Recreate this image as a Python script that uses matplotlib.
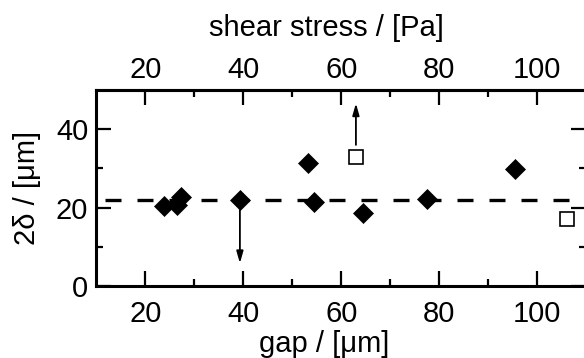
import matplotlib.pyplot as plt

plt.rcParams['font.family'] = ['Liberation Sans', 'DejaVu Sans']

# filled diamonds: gap [um] vs 2*delta [um]
gap = [23.8, 26.5, 27.2, 39.3, 53.3, 54.4, 64.4, 77.6, 95.6]
delta2 = [20.5, 20.7, 22.8, 21.9, 31.3, 21.5, 18.7, 22.3, 29.8]

# open squares
gap_open = [63.0, 106.1]
delta2_open = [32.9, 17.1]

# mean level (dashed line)
level = 22.0
level_x = [11.7, 106.7]

# arrows (limits): (x, y_start, y_end)
arrows = [(39.3, 19.4, 5.8), (63.0, 36.0, 46.6)]

major_x = [20, 40, 60, 80, 100]
minor_x = [30, 50, 70, 90]

fig = plt.figure(figsize=(5.84, 3.58), dpi=100)
ax = fig.add_axes([0.1652, 0.2011, 0.8382, 0.5475])

ax.plot(level_x, [level, level], color='black', lw=2.4,
        linestyle=(0, (4.8, 4.8)), dash_capstyle='butt', zorder=2)
ax.plot(gap, delta2, linestyle='none', marker='D', ms=9.8,
        color='black', mew=0.5, zorder=3)
ax.plot(gap_open, delta2_open, linestyle='none', marker='s', ms=10,
        mfc='white', mec='black', mew=1.2, zorder=3)

for x, y0, y1 in arrows:
    ax.annotate('', xy=(x, y1), xytext=(x, y0),
                arrowprops=dict(arrowstyle='-|>,head_length=0.7,head_width=0.2',
                                color='black', lw=1.3, shrinkA=0, shrinkB=0))

ax.set_xlim(10, 110)
ax.set_ylim(0, 50)
ax.set_xticks(major_x)
ax.set_xticks(minor_x, minor=True)
ax.set_yticks([0, 20, 40])
ax.set_yticks([10, 30], minor=True)

for s in ax.spines.values():
    s.set_linewidth(2.2)

ax.tick_params(which='both', direction='in', top=False, right=True,
               width=1.6, labelsize=21)
ax.tick_params(which='major', length=10.5)
ax.tick_params(which='minor', length=5)
ax.tick_params(axis='x', which='major', pad=10)
ax.tick_params(axis='y', which='major', pad=6)

# top axis (shear stress) carries the same ticks
top = ax.secondary_xaxis('top')
top.set_xticks(major_x)
top.set_xticks(minor_x, minor=True)
top.spines['top'].set_linewidth(2.2)
top.tick_params(which='both', direction='in', width=1.6, labelsize=21)
top.tick_params(which='major', length=10.5, pad=4)
top.tick_params(which='minor', length=5)

ax.set_ylabel('2δ / [μm]', fontsize=21)
ax.yaxis.set_label_coords(-0.113, 0.5)

fig.text(326.7 / 584, 0.8994, 'shear stress / [Pa]', fontsize=21,
         ha='center', va='baseline')
fig.text(324 / 584, 0.016, 'gap / [μm]', fontsize=21,
         ha='center', va='baseline')

fig.savefig('out.png', dpi=100)
